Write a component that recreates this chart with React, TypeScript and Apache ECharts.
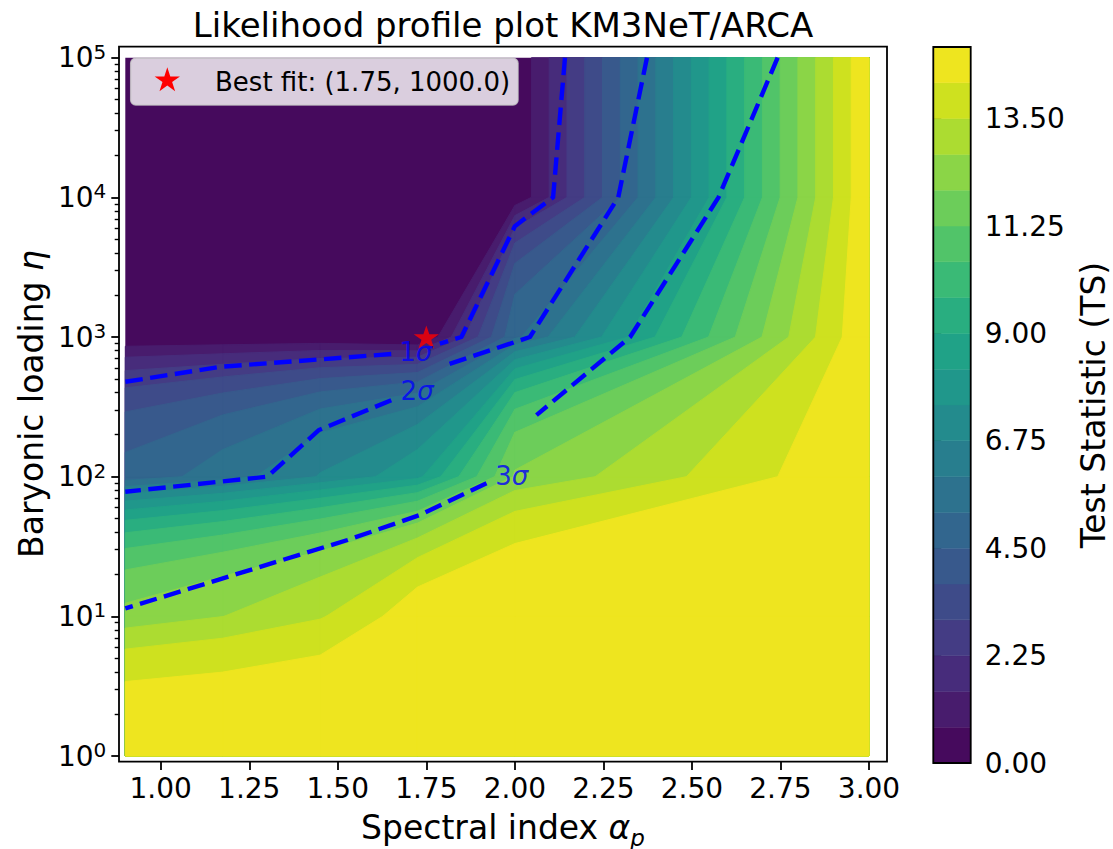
import { useEffect, useRef } from 'react';
import * as echarts from 'echarts';

const FONT = 'DejaVu Sans';

// ---------------- data ----------------
// Grid of the likelihood scan (spectral index alpha_p  x  baryonic loading eta)
const alphaGrid = [0.9, 1.175, 1.45, 1.725, 2.0, 3.0];
const etaGrid = [1, 10, 100, 1000, 10000, 100000];
// Test statistic, one row per eta value, columns follow alphaGrid
const tsAtEta1 = [15.0, 15.0, 15.0, 15.0, 15.0, 15.0];
const tsAtEta10 = [12.2, 12.74, 13.42, 14.71, 15.0, 15.0];
const tsAtEta100 = [4.76, 5.6, 6.8, 8.03, 12.09, 15.0];
const tsAtEta1000 = [0.0, 0.0, 0.0, -0.4, 5.07, 15.0];
const tsAtEta1e4 = [0.0, 0.0, 0.0, 0.0, 0.05, 15.0];
const tsAtEta1e5 = [0.0, 0.0, 0.0, 0.0, 0.05, 15.0];
const tsGrid = [tsAtEta1, tsAtEta10, tsAtEta100, tsAtEta1000, tsAtEta1e4, tsAtEta1e5];

const levels = [0, 0.75, 1.5, 2.25, 3, 3.75, 4.5, 5.25, 6, 6.75, 7.5, 8.25, 9, 9.75, 10.5, 11.25, 12, 12.75, 13.5, 14.25, 15];
const bandColors = [
  '#460a5d', '#481c6d', '#472c7b', '#443c84', '#3e4b89', '#38598c', '#32668e', '#2d728e', '#287e8e', '#238b8d',
  '#20978b', '#20a287', '#29ae80', '#3aba76', '#51c469', '#6ccd5a', '#8bd547', '#acdc31', '#cee11f', '#eee51f',
];

const bestFit = [1.75, 1000];
const bestFitLabel = 'Best fit: (1.75, 1000.0)';

// sigma contours (dashed), split where the inline labels sit
const sigma1Upper = [[2.1415, 100000], [2.108, 10000], [2.0, 6220], [1.849, 1000], [1.788, 897]];
const sigma1Lower = [[1.651, 755], [1.169, 612], [0.9, 478]];
const sigma2Upper = [[2.373, 100000], [2.292, 10000], [2.0425, 1000], [1.797, 619]];
const sigma2Lower = [[1.651, 353], [1.447, 216], [1.301, 100], [0.9, 78]];
const sigma3Upper = [[2.742, 100000], [2.575, 10000], [2.3255, 1000], [2.061, 276]];
const sigma3Lower = [[1.92, 89.6], [1.731, 53.1], [1.5275, 35.2], [0.9, 11.4]];
const sigmaLines = [sigma1Upper, sigma1Lower, sigma2Upper, sigma2Lower, sigma3Upper, sigma3Lower];
const sigmaLabelNames = ['1', '2', '3'];
const sigmaLabelAlpha = [1.72, 1.724, 1.9915];
const sigmaLabelEta = [780, 410, 101.3];

const xTickValues = [1.0, 1.25, 1.5, 1.75, 2.0, 2.25, 2.5, 2.75, 3.0];
const yTickValues = [1, 10, 100, 1000, 10000, 100000];
const yMinorTickValues = [
  2, 3, 4, 5, 6, 7, 8, 9,
  20, 30, 40, 50, 60, 70, 80, 90,
  200, 300, 400, 500, 600, 700, 800, 900,
  2000, 3000, 4000, 5000, 6000, 7000, 8000, 9000,
  20000, 30000, 40000, 50000, 60000, 70000, 80000, 90000,
];
const colorbarTickValues = [0, 2.25, 4.5, 6.75, 9, 11.25, 13.5];

// ---------------- contour helpers ----------------
type Pt = { a: number; e: number; v: number };

function clipAbove(poly: Pt[], L: number): Pt[] {
  const out: Pt[] = [];
  for (let i = 0; i < poly.length; i++) {
    const P = poly[i];
    const Q = poly[(i + 1) % poly.length];
    const pin = P.v >= L;
    const qin = Q.v >= L;
    if (pin) out.push(P);
    if (pin !== qin) {
      const t = (L - P.v) / (Q.v - P.v);
      out.push({ a: P.a + t * (Q.a - P.a), e: P.e + t * (Q.e - P.e), v: L });
    }
  }
  return out;
}

function buildFillPolys() {
  const polys: { k: number; pts: Pt[] }[] = [];
  const nA = alphaGrid.length - 1;
  const nE = etaGrid.length - 1;
  // lowest band: the whole scanned area
  polys.push({
    k: 0,
    pts: [
      { a: alphaGrid[0], e: etaGrid[0], v: 0 },
      { a: alphaGrid[nA], e: etaGrid[0], v: 0 },
      { a: alphaGrid[nA], e: etaGrid[nE], v: 0 },
      { a: alphaGrid[0], e: etaGrid[nE], v: 0 },
    ],
  });
  for (let k = 1; k < levels.length - 1; k++) {
    for (let r = 0; r < nE; r++) {
      for (let c = 0; c < nA; c++) {
        const quad: Pt[] = [
          { a: alphaGrid[c], e: etaGrid[r], v: tsGrid[r][c] },
          { a: alphaGrid[c + 1], e: etaGrid[r], v: tsGrid[r][c + 1] },
          { a: alphaGrid[c + 1], e: etaGrid[r + 1], v: tsGrid[r + 1][c + 1] },
          { a: alphaGrid[c], e: etaGrid[r + 1], v: tsGrid[r + 1][c] },
        ];
        const pts = clipAbove(quad, levels[k]);
        if (pts.length >= 3) polys.push({ k, pts });
      }
    }
  }
  return polys;
}

function starPts(cx: number, cy: number, R: number) {
  const pts: number[][] = [];
  for (let i = 0; i < 10; i++) {
    const ang = -Math.PI / 2 + (i * Math.PI) / 5;
    const r = i % 2 === 0 ? R : R * 0.381966;
    pts.push([cx + r * Math.cos(ang), cy + r * Math.sin(ang)]);
  }
  return pts;
}

const starSymbol =
  'path://' +
  starPts(0, 0, 10)
    .map((p, i) => (i ? 'L' : 'M') + p[0].toFixed(3) + ',' + p[1].toFixed(3))
    .join(' ') +
  ' Z';

function buildOption() {
  const fillPolys = buildFillPolys();
  const bands = levels.slice(0, -1).map((l, i) => [0.5, (l + levels[i + 1]) / 2]);

  const tickLine = { color: '#000', width: 1.8 };

  const series: any[] = [
    {
      type: 'custom',
      xAxisIndex: 0,
      yAxisIndex: 0,
      silent: true,
      z: 1,
      encode: { x: 0, y: 1 },
      data: fillPolys.map((p) => [p.pts[0].a, p.pts[0].e]),
      renderItem: (params: any, api: any) => {
        const poly = fillPolys[params.dataIndex];
        const points = poly.pts.map((p) => api.coord([p.a, p.e]));
        const col = bandColors[poly.k];
        return {
          type: 'polygon',
          shape: { points },
          style: { fill: col, stroke: poly.k === 0 ? 'none' : col, lineWidth: 1 },
        };
      },
    },
  ];

  sigmaLines.forEach((seg) => {
    series.push({
      type: 'line',
      xAxisIndex: 0,
      yAxisIndex: 0,
      data: seg,
      showSymbol: false,
      symbol: 'none',
      silent: true,
      z: 3,
      lineStyle: { color: '#0000ff', width: 4.4, type: [17.5, 7.5], cap: 'butt', join: 'round' },
    });
  });

  series.push({
    type: 'scatter',
    xAxisIndex: 0,
    yAxisIndex: 0,
    name: bestFitLabel,
    data: [bestFit],
    symbol: starSymbol,
    symbolSize: [25.3, 24.1],
    symbolKeepAspect: true,
    itemStyle: { color: '#ff0000' },
    silent: true,
    z: 5,
  });

  series.push({
    type: 'scatter',
    xAxisIndex: 0,
    yAxisIndex: 0,
    symbolSize: 0,
    silent: true,
    z: 6,
    data: sigmaLabelNames.map((n, i) => ({ name: n, value: [sigmaLabelAlpha[i], sigmaLabelEta[i]] })),
    label: {
      show: true,
      position: 'inside',
      formatter: (p: any) => `{n|${p.name}}{g|σ}`,
      rich: {
        n: { fontSize: 26, fontFamily: FONT, color: '#0000ff' },
        g: { fontSize: 26, fontFamily: FONT, fontStyle: 'italic', color: '#0000ff' },
      },
    },
  });

  series.push({
    type: 'custom',
    xAxisIndex: 1,
    yAxisIndex: 2,
    silent: true,
    encode: { x: 0, y: 1 },
    data: bands,
    renderItem: (params: any, api: any) => {
      const i = params.dataIndex;
      const p0 = api.coord([0, levels[i]]);
      const p1 = api.coord([1, levels[i + 1]]);
      return {
        type: 'rect',
        shape: { x: p0[0], y: p1[1], width: p1[0] - p0[0], height: p0[1] - p1[1] },
        style: { fill: bandColors[i], stroke: bandColors[i], lineWidth: 0.5 },
      };
    },
  });

  const legendStar = starPts(167.3, 80.5, 13.3);

  return {
    animation: false,
    backgroundColor: '#ffffff',
    textStyle: { fontFamily: FONT },
    grid: [
      { left: 125.3, top: 57.7, width: 743.7, height: 698.3 },
      { left: 933.3, top: 47, width: 37.4, height: 716 },
    ],
    xAxis: [
      {
        gridIndex: 0,
        type: 'value',
        min: 0.9,
        max: 3.0,
        position: 'bottom',
        offset: 6,
        axisLine: { show: false },
        splitLine: { show: false },
        axisTick: { show: true, customValues: xTickValues, length: 8, lineStyle: tickLine },
        axisLabel: {
          show: true,
          customValues: xTickValues,
          formatter: (v: number) => v.toFixed(2),
          fontSize: 28,
          fontFamily: FONT,
          color: '#000',
          margin: 12,
        },
      },
      { gridIndex: 1, type: 'value', min: 0, max: 1, show: false, splitLine: { show: false } },
    ],
    yAxis: [
      {
        gridIndex: 0,
        type: 'log',
        logBase: 10,
        min: 1,
        max: 100000,
        position: 'left',
        offset: 6,
        axisLine: { show: false },
        splitLine: { show: false },
        axisTick: { show: true, customValues: yTickValues, length: 8, lineStyle: tickLine },
        axisLabel: {
          show: true,
          customValues: yTickValues,
          margin: 13,
          formatter: (v: number) => `{b|10}{s|${Math.round(Math.log10(v))}}`,
          rich: {
            b: { fontSize: 28, fontFamily: FONT, color: '#000', lineHeight: 32 },
            s: { fontSize: 20, fontFamily: FONT, color: '#000', verticalAlign: 'top', lineHeight: 20 },
          },
        },
      },
      {
        gridIndex: 0,
        type: 'log',
        logBase: 10,
        min: 1,
        max: 100000,
        position: 'left',
        offset: 6,
        axisLine: { show: false },
        splitLine: { show: false },
        axisLabel: { show: false },
        axisTick: { show: true, customValues: yMinorTickValues, length: 4.6, lineStyle: { color: '#000', width: 1.4 } },
      },
      {
        gridIndex: 1,
        type: 'value',
        min: 0,
        max: 15,
        position: 'right',
        axisLine: { show: false },
        splitLine: { show: false },
        axisTick: { show: true, customValues: colorbarTickValues, length: 8, lineStyle: tickLine },
        axisLabel: {
          show: true,
          customValues: colorbarTickValues,
          formatter: (v: number) => v.toFixed(2),
          fontSize: 28,
          fontFamily: FONT,
          color: '#000',
          margin: 14,
        },
      },
    ],
    series,
    graphic: [
      {
        type: 'rect',
        z: 100,
        silent: true,
        shape: { x: 119, y: 46.7, width: 768, height: 715 },
        style: { fill: 'none', stroke: '#000', lineWidth: 1.8 },
      },
      {
        type: 'rect',
        z: 100,
        silent: true,
        shape: { x: 933.3, y: 47, width: 37.4, height: 716 },
        style: { fill: 'none', stroke: '#000', lineWidth: 1.8 },
      },
      {
        type: 'rect',
        z: 100,
        silent: true,
        shape: { x: 130.7, y: 58.3, width: 387.3, height: 46.7, r: 5 },
        style: { fill: 'rgba(255,255,255,0.8)', stroke: 'rgba(204,204,204,0.8)', lineWidth: 1.5 },
      },
      {
        type: 'polygon',
        z: 101,
        silent: true,
        shape: { points: legendStar },
        style: { fill: '#ff0000' },
      },
      {
        type: 'text',
        z: 101,
        silent: true,
        x: 215,
        y: 81.5,
        style: { text: bestFitLabel, fontSize: 26, fontFamily: FONT, fill: '#000', align: 'left', verticalAlign: 'middle' },
      },
      {
        type: 'text',
        z: 100,
        silent: true,
        x: 503,
        y: 25,
        style: {
          text: 'Likelihood profile plot KM3NeT/ARCA',
          fontSize: 34,
          fontFamily: FONT,
          fill: '#000',
          align: 'center',
          verticalAlign: 'middle',
        },
      },
      {
        type: 'text',
        z: 100,
        silent: true,
        x: 503,
        y: 827,
        style: {
          text: '{t|Spectral index }{a|α}{p|p}',
          fontSize: 33,
          fontFamily: FONT,
          fill: '#000',
          align: 'center',
          verticalAlign: 'middle',
          rich: {
            t: { fontSize: 33, fontFamily: FONT, fill: '#000', lineHeight: 44 },
            a: { fontSize: 33, fontFamily: FONT, fill: '#000', fontStyle: 'italic', lineHeight: 44 },
            p: { fontSize: 23, fontFamily: FONT, fill: '#000', fontStyle: 'italic', verticalAlign: 'bottom', lineHeight: 23 },
          },
        },
      },
      {
        type: 'text',
        z: 100,
        silent: true,
        x: 31,
        y: 404,
        rotation: Math.PI / 2,
        style: {
          text: '{t|Baryonic loading }{h|η}',
          fontSize: 33,
          fontFamily: FONT,
          fill: '#000',
          align: 'center',
          verticalAlign: 'middle',
          rich: {
            t: { fontSize: 33, fontFamily: FONT, fill: '#000' },
            h: { fontSize: 33, fontFamily: FONT, fill: '#000', fontStyle: 'italic' },
          },
        },
      },
      {
        type: 'text',
        z: 100,
        silent: true,
        x: 1093,
        y: 405,
        rotation: Math.PI / 2,
        style: {
          text: 'Test Statistic (TS)',
          fontSize: 33,
          fontFamily: FONT,
          fill: '#000',
          align: 'center',
          verticalAlign: 'middle',
        },
      },
    ],
  };
}

export default function App() {
  const ref = useRef<HTMLDivElement>(null);
  useEffect(() => {
    if (!ref.current) return;
    const chart = echarts.init(ref.current, undefined, { renderer: 'svg' });
    chart.setOption(buildOption() as any);
    return () => chart.dispose();
  }, []);
  return (
    <div
      ref={ref}
      style={{ position: 'absolute', left: 0, top: 0, width: 1113, height: 849, background: '#ffffff' }}
    />
  );
}
